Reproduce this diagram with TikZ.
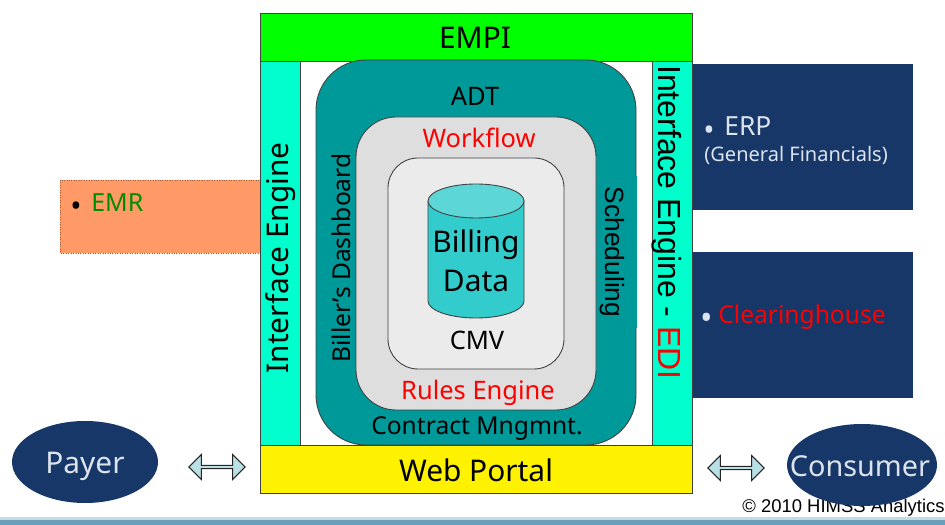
\documentclass[tikz,border=0pt]{standalone}
\usepackage{fontspec}
\setmainfont{Noto Sans}
\newfontfamily\arialfont{Liberation Sans}
\usetikzlibrary{shapes.geometric,shapes.arrows}
\definecolor{navyblock}{HTML}{163768}
\definecolor{navytext}{HTML}{DCE3EC}
\definecolor{engine}{HTML}{00FFCC}
\definecolor{tealring}{HTML}{009999}
\definecolor{emrfill}{HTML}{FF9966}
\definecolor{cylbody}{HTML}{33CCCC}
\definecolor{cyltop}{HTML}{5CD6D6}
\definecolor{arrowfill}{HTML}{B9E0E4}
\definecolor{bandblue}{HTML}{6A9FB8}
\definecolor{bandlight}{HTML}{C5DAE3}
\newcommand{\pxfont}[1]{\fontsize{#1}{#1}\selectfont}
\tikzset{
	block/.style={draw=black!75, line width=0.5pt},
	bigtext/.style={font=\pxfont{17}, inner sep=0pt},
	midtext/.style={font=\pxfont{14.5}, inner sep=0pt},
	navytxt/.style={text=navytext, inner sep=0pt},
	navyoval/.style={ellipse, fill=navyblock, minimum height=16.4mm, inner sep=0pt},
	swaparrow/.style={shape=double arrow, draw=black!85, fill=arrowfill, line width=0.6pt, minimum width=14.2pt, minimum height=32pt, double arrow head extend=2pt, inner sep=0pt},
}

\begin{document}
\begin{tikzpicture}[x=0.2mm, y=-0.2mm]
	%%%%% START %%%%%
	\useasboundingbox (0, 0) rectangle (945, 525);
	\fill[white] (0, 0) rectangle (945, 525);

	\fill[bandlight] (0, 517) rectangle (945, 520);
	\fill[bandblue] (0, 520) rectangle (945, 525);

	% left side
	\draw[emrfill!60!black, densely dotted, fill=emrfill] (60, 180) rectangle (260, 253);
	\node[font=\pxfont{17}, inner sep=0pt] (emrdot) at (76, 209) {•};
	\node[font=\pxfont{14.2}, text=green!55!black, inner sep=0pt, anchor=west] (emr) at (91, 203) {EMR};

	% right side
	\fill[navyblock] (693, 64) rectangle (913, 210);
	\node[navytxt, font=\pxfont{17}] (erpdot) at (709, 133) {•};
	\node[navytxt, font=\pxfont{15}, anchor=west] (erp) at (724, 126) {ERP};
	\node[navytxt, font=\pxfont{11.4}, anchor=west] (financials) at (704, 155) {(General Financials)};

	\fill[navyblock] (693, 252) rectangle (913, 398);
	\node[navytxt, font=\pxfont{19}] (chdot) at (707, 321) {•};
	\node[font=\pxfont{14}, text=red, inner sep=0pt, anchor=west] (clearing) at (718, 317) {Clearinghouse};

	% frame
	\draw[block, fill=engine] (260, 61) rectangle (300, 445);
	\draw[block, fill=engine] (652, 61) rectangle (692, 445);
	\draw[block, fill=green] (260, 13) rectangle (692, 61);
	\draw[block, fill=yellow] (260, 445) rectangle (692, 493);

	\node[bigtext] (empi) at (475, 38) {EMPI};
	\node[bigtext] (portal) at (476, 470) {Web Portal};
	\node[bigtext, rotate=90, anchor=base] (engineleft) at (288, 258) {Interface Engine};
	\node[inner sep=0pt, font=\arialfont\pxfont{18.2}, rotate=-90, anchor=base] (engineright) at (658, 222.5) {Interface Engine - \textcolor{red}{EDI}};

	% rings
	\draw[block, fill=tealring, rounded corners=10mm] (316, 60) rectangle (636, 445);
	\draw[block, fill=black!13, rounded corners=8mm] (356, 117) rectangle (596, 410);
	\draw[block, fill=black!8, rounded corners=6mm] (388, 158) rectangle (564, 369);
	\fill[tealring] (603, 176) rectangle (637, 328);

	\node[midtext] (adt) at (475, 96) {ADT};
	\node[midtext, text=red] (workflow) at (479, 138) {Workflow};
	\node[midtext] (cmv) at (477, 340) {CMV};
	\node[midtext, text=red] (rules) at (478, 393) {Rules Engine};
	\node[midtext, font=\pxfont{14}] (contract) at (477, 429) {Contract Mngmnt.};
	\node[midtext, font=\pxfont{14}, rotate=90, anchor=base] (billers) at (350, 258) {Biller's Dashboard};
	\node[inner sep=0pt, font=\arialfont\pxfont{15}, rotate=-90, anchor=base] (scheduling) at (605, 252) {Scheduling};

	% billing data
	\draw[block, fill=cylbody] (428, 201) -- (428, 301) arc (180:0:48 and 17) -- (524, 201);
	\draw[block, fill=cyltop] (476, 201) ellipse (48 and 17);
	\node[bigtext] (billing) at (476, 245) {Billing};
	\node[bigtext] (data) at (476, 281) {Data};

	% bottom row
	\node[font=\arialfont\pxfont{10.5}, inner sep=0pt, anchor=east] (copyright) at (945, 508) {© 2010 HIMSS Analytics};
	\node[navyoval, minimum width=29.2mm] (payerbox) at (85, 462) {};
	\node[navytxt, font=\pxfont{17}] (payer) at (85, 466) {Payer};
	\node[navyoval, minimum width=30mm] (consumerbox) at (862, 465) {};
	\node[navytxt, font=\pxfont{16.4}] (consumer) at (860, 466) {Consumer};
	\node[swaparrow] (payerarrow) at (217, 467) {};
	\node[swaparrow] (consumerarrow) at (736, 468) {};
	%%%%% END %%%%%
\end{tikzpicture}
\end{document}
